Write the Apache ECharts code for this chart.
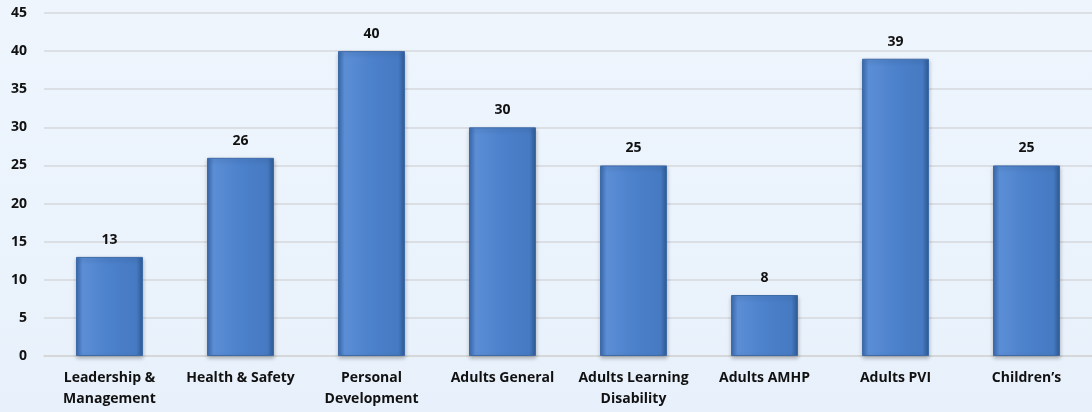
<!DOCTYPE html>
<html>
<head>
<meta charset="utf-8">
<script src="https://cdn.jsdelivr.net/npm/echarts@6/dist/echarts.min.js"></script>
<style>
html,body{margin:0;padding:0;}
#c{width:1092px;height:412px;background:linear-gradient(180deg,#eef5fd 0%,#e8f1fb 100%);}
</style>
</head>
<body>
<div id="c"></div>
<script>
const categories = ['Leadership &\nManagement','Health & Safety','Personal\nDevelopment','Adults General','Adults Learning\nDisability','Adults AMHP','Adults PVI','Children\u2019s'];
const values = [13,26,40,30,25,8,39,25];
const yTicks = {min:0,max:45,interval:5};

const chart = echarts.init(document.getElementById('c'));
const font = '"Open Sans", Lato, "DejaVu Sans", sans-serif';
chart.setOption({
  animation:false,
  grid:{left:44,right:0,top:13,bottom:56},
  xAxis:{
    type:'category',
    data:categories,
    axisLine:{show:true,lineStyle:{color:'#d4d4d4',width:1.5}},
    axisTick:{show:false},
    axisLabel:{interval:0,color:'#111',fontWeight:'bold',fontSize:14,fontFamily:font,lineHeight:21,margin:12}
  },
  yAxis:{
    type:'value',
    min:yTicks.min,max:yTicks.max,interval:yTicks.interval,
    axisLine:{show:false},axisTick:{show:false},
    splitLine:{lineStyle:{color:'#d6d9dd',width:1.5}},
    axisLabel:{color:'#111',fontWeight:'bold',fontSize:14,fontFamily:font,margin:17}
  },
  series:[{
    type:'bar',
    data:values,
    barWidth:67,
    itemStyle:{
      color:new echarts.graphic.LinearGradient(0,0,1,0,[
        {offset:0,color:'#3a69ad'},
        {offset:0.1,color:'#5b8ed5'},
        {offset:0.5,color:'#4c81cb'},
        {offset:0.9,color:'#467ac2'},
        {offset:1,color:'#305d98'}
      ]),
      borderColor:'#3e6aa8',
      borderWidth:1,
      shadowColor:'rgba(0,0,0,0.25)',
      shadowBlur:4,
      shadowOffsetY:2
    },
    label:{show:true,position:'top',distance:10,color:'#111',fontWeight:'bold',fontSize:14,fontFamily:font}
  }]
});
</script>
</body>
</html>
